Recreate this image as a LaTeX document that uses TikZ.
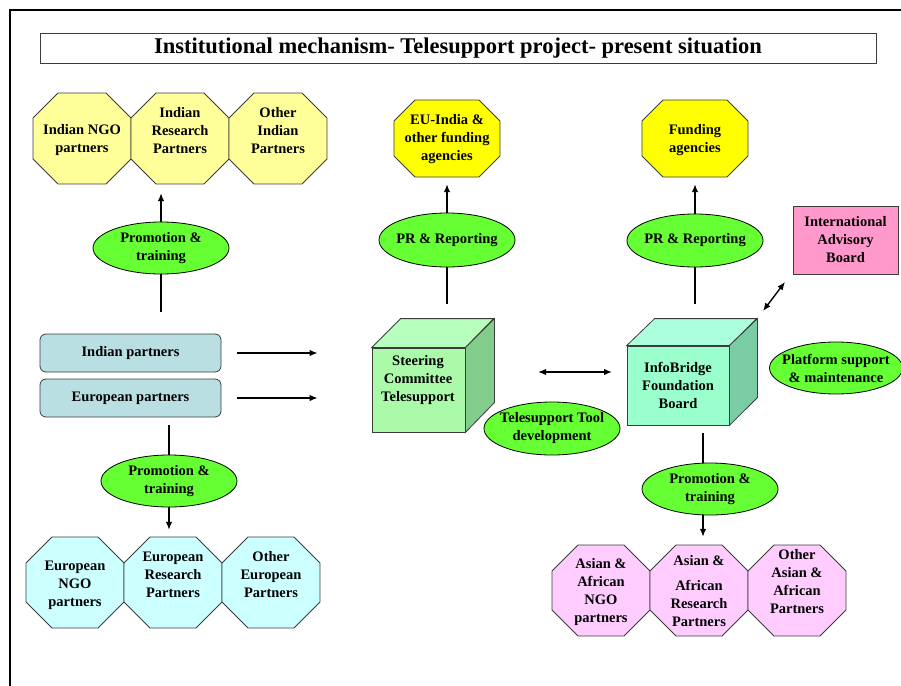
\documentclass[tikz,border=0pt]{standalone}
\usepackage{fontspec}
\setmainfont{Liberation Serif}
\usetikzlibrary{shapes.geometric,arrows.meta,calc}
\definecolor{ylight}{HTML}{FFFF99}
\definecolor{ystrong}{HTML}{FFFF00}
\definecolor{gell}{HTML}{66FF33}
\definecolor{pbox}{RGB}{185,223,226}
\definecolor{iabc}{HTML}{FF99CC}
\definecolor{cyanl}{HTML}{CCFFFF}
\definecolor{pinkl}{HTML}{FFCCFF}
\definecolor{sfront}{RGB}{170,250,170}
\definecolor{stop}{RGB}{182,255,188}
\definecolor{sside}{RGB}{130,204,140}
\definecolor{ifront}{RGB}{155,255,205}
\definecolor{itop}{RGB}{172,255,220}
\definecolor{iside}{RGB}{122,204,165}
\definecolor{edge}{RGB}{60,60,60}
\tikzset{
  btext/.style={font=\fontsize{14.5}{18}\selectfont\bfseries, align=center, inner sep=0pt},
  octline/.style={draw=edge, line width=0.8pt},
  ellshape/.style={ellipse, draw=black, line width=0.8pt, fill=gell, inner sep=0pt},
  pbx/.style={rounded corners=6pt, draw=edge, line width=0.8pt, fill=pbox, minimum width=181pt, minimum height=38pt, btext},
  conn/.style={line width=1.4pt},
  arr/.style={line width=1.4pt, -{Latex[length=8pt,width=6.5pt]}},
  darr/.style={line width=1.4pt, {Latex[length=8pt,width=6.5pt]}-{Latex[length=8pt,width=6.5pt]}},
  cubeline/.style={draw=edge, line width=0.8pt},
}
% name, cx, cy, w, h, cut, fill, texty, text
\newcommand{\octa}[9]{%
  \draw[octline, fill=#7] ({#2-#4/2+#6},{#3-#5/2}) -- ({#2+#4/2-#6},{#3-#5/2}) -- ({#2+#4/2},{#3-#5/2+#6}) -- ({#2+#4/2},{#3+#5/2-#6}) -- ({#2+#4/2-#6},{#3+#5/2}) -- ({#2-#4/2+#6},{#3+#5/2}) -- ({#2-#4/2},{#3+#5/2-#6}) -- ({#2-#4/2},{#3-#5/2+#6}) -- cycle;
  \node[inner sep=0pt, minimum width=#4 pt, minimum height=#5 pt] (#1) at (#2,#3) {};
  \node[btext] (#1t) at (#2,#8) {#9};
}
% name, cx, cy, w, h, text
\newcommand{\ellnode}[6]{%
  \node[ellshape, minimum width=#4 pt, minimum height=#5 pt] (#1) at (#2,#3) {};
  \node[btext] (#1t) at (#1) {#6};
}
\begin{document}
\begin{tikzpicture}[x=1pt,y=-1pt]
\useasboundingbox (0,0) rectangle (901,685);
% frame
\draw[line width=2.6pt] (10,690) -- (10,10) -- (905,10);
% title
\node[draw=edge, line width=0.8pt, minimum width=836pt, minimum height=30pt, inner sep=0pt,
  font=\fontsize{22.5}{26}\selectfont\bfseries] (title) at (458,48) {Institutional mechanism- Telesupport project- present situation};

% top-left octagons
\octa{ingo}{82}{138.5}{98}{91}{25}{ylight}{140}{Indian NGO\\partners}
\octa{ires}{180}{138.5}{98}{91}{25}{ylight}{131}{Indian\\Research\\Partners}
\octa{ioth}{278}{138.5}{98}{91}{25}{ylight}{131}{Other\\Indian\\Partners}
% funding octagons
\octa{eu}{447}{138.5}{106}{77}{21}{ystrong}{139}{EU-India \&\\other funding\\agencies}
\octa{fund}{695}{138.5}{106}{77}{21}{ystrong}{140}{Funding\\agencies}
% bottom-left octagons
\octa{engo}{75}{582.5}{98}{91}{26}{cyanl}{585}{European\\NGO\\partners}
\octa{eres}{173}{582.5}{98}{91}{26}{cyanl}{575}{European\\Research\\Partners}
\octa{eoth}{271}{582.5}{98}{91}{26}{cyanl}{575}{Other\\European\\Partners}
% bottom-right octagons
\octa{ango}{601}{590.5}{98}{91}{26}{pinkl}{592}{Asian \&\\African\\NGO\\partners}
\octa{ares}{699}{590.5}{98}{91}{26}{pinkl}{591}{Asian \&\\[7pt]African\\Research\\Partners}
\octa{aoth}{797}{590.5}{98}{91}{26}{pinkl}{582}{Other\\Asian \&\\African\\Partners}

% partner boxes
\node[pbx] (ipb) at (130.5,353) {Indian partners};
\node[pbx] (epb) at (130.5,398) {European partners};

% IAB
\node[draw=edge, line width=0.8pt, fill=iabc, minimum width=105pt, minimum height=68pt, btext] (iab) at (845.5,240) {International\\Advisory\\Board};

% steering cube
\node[cubeline, fill=sfront, minimum width=93pt, minimum height=84pt, inner sep=0pt] (steer) at (418.5,390) {};
\draw[cubeline, fill=stop] (steer.north west) -- ++(29,-29) -- ++(93,0) -- (steer.north east) -- cycle;
\draw[cubeline, fill=sside] (steer.north east) -- ++(29,-29) -- ++(0,84) -- (steer.south east) -- cycle;
\node[btext] (steertext) at (418,380) {Steering\\Committee\\Telesupport};

% infobridge cube
\node[cubeline, fill=ifront, minimum width=102pt, minimum height=79pt, inner sep=0pt] (ib) at (678,385.5) {};
\draw[cubeline, fill=itop] (ib.north west) -- ++(28,-27) -- ++(102,0) -- (ib.north east) -- cycle;
\draw[cubeline, fill=iside] (ib.north east) -- ++(28,-27) -- ++(0,79) -- (ib.south east) -- cycle;
\node[btext] (ibtext) at (678,385) {InfoBridge\\Foundation\\Board};

% ellipses
\ellnode{pt1}{161}{248}{136}{52}{Promotion \&\\training}
\ellnode{pr1}{447}{240}{136}{54}{PR \& Reporting}
\ellnode{pr2}{695}{240.5}{136}{53}{PR \& Reporting}
\ellnode{tool}{552}{428.5}{136}{53}{Telesupport Tool\\development}
\ellnode{plat}{836}{368}{133}{52}{Platform support\\\& maintenance}
\ellnode{pt2}{169}{481}{136}{52}{Promotion \&\\training}
\ellnode{pt3}{710}{489}{136}{52}{Promotion \&\\training}

% connectors left
\draw[conn, shorten <=22pt] (ipb.north -| pt1.south) -- (pt1.south);
\draw[arr, shorten >=9pt] (pt1.north) -- (pt1.north |- ires.south);
\draw[conn, shorten <=8pt] (epb.south -| pt2.north) -- (pt2.north);
\draw[arr, shorten >=7pt] (pt2.south) -- (pt2.south |- eres.north);
\draw[arr, shorten <=16pt, shorten >=54pt] (ipb.east) -- (ipb.east -| steer.west);
\draw[arr, shorten <=16pt, shorten >=54pt] (epb.east) -- (epb.east -| steer.west);
% middle
\draw[conn, shorten >=44pt] (pr1.south) -- (pr1.south |- steer.north);
\draw[arr, shorten >=7pt] (pr1.north) -- (pr1.north |- eu.south);
% right
\draw[conn, shorten >=42pt] (pr2.south) -- (pr2.south |- ib.north);
\draw[arr, shorten >=7pt] (pr2.north) -- (pr2.north |- fund.south);
\draw[conn, shorten <=8pt] ([xshift=-7pt]pt3.north |- ib.south) -- ([xshift=-7pt]pt3.north);
\draw[arr, shorten >=8pt] ([xshift=-7pt]pt3.south) -- ([xshift=-7pt]pt3.south |- ares.north);
% double arrows
\coordinate (dA) at (538,372);
\coordinate (dB) at (612,372);
\draw[darr] (dA) -- (dB);
\coordinate (iA) at (763,311);
\coordinate (iB) at (785,282);
\draw[darr] (iA) -- (iB);
\end{tikzpicture}
\end{document}
